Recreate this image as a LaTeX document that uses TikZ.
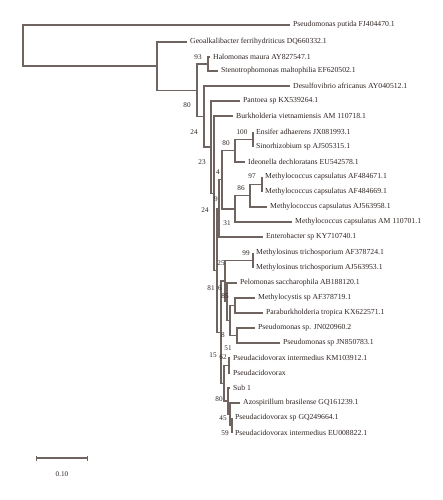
\documentclass[tikz,border=0pt]{standalone}
\usepackage{fontspec}
\setmainfont{Liberation Serif}
\usetikzlibrary{arrows.meta}
\definecolor{branchgray}{RGB}{112,100,96}
\definecolor{labelbrown}{RGB}{45,35,33}

\begin{document}
\begin{tikzpicture}[x=1pt, y=-1pt,
    branch/.style={draw=branchgray, line width=1.25pt},
    taxon/.style={anchor=west, inner xsep=3pt, inner ysep=0pt, text=labelbrown, font=\fontsize{7.7}{8}\selectfont},
    boot/.style={inner sep=0pt, text=labelbrown, font=\fontsize{7.2}{8}\selectfont}]
    %%%%% START %%%%%
    \useasboundingbox (0,0) rectangle (442,500);

    % taxa
    \node[taxon] (putida) at (290,25) {Pseudomonas putida FJ404470.1};
    \node[taxon] (geoalk) at (187,42) {Geoalkalibacter ferrihydriticus DQ660332.1};
    \node[taxon] (halo) at (210,57) {Halomonas maura AY827547.1};
    \node[taxon] (steno) at (218,71) {Stenotrophomonas maltophilia EF620502.1};
    \node[taxon] (desulfo) at (290,86) {Desulfovibrio africanus AY040512.1};
    \node[taxon] (pantoea) at (240,101) {Pantoea sp KX539264.1};
    \node[taxon] (burkh) at (233,116) {Burkholderia vietnamiensis AM 110718.1};
    \node[taxon] (ensifer) at (253,132) {Ensifer adhaerens JX081993.1};
    \node[taxon] (sinorh) at (253,147) {Sinorhizobium sp AJ505315.1};
    \node[taxon] (ideo) at (245,162) {Ideonella dechloratans EU542578.1};
    \node[taxon] (mcA) at (262,177) {Methylococcus capsulatus AF484671.1};
    \node[taxon] (mcB) at (262,192) {Methylococcus capsulatus AF484669.1};
    \node[taxon] (mcC) at (267,207) {Methylococcus capsulatus AJ563958.1};
    \node[taxon] (mcD) at (292,222) {Methylococcus capsulatus AM 110701.1};
    \node[taxon] (entero) at (263,237) {Enterobacter sp KY710740.1};
    \node[taxon] (msA) at (253,253) {Methylosinus trichosporium AF378724.1};
    \node[taxon] (msB) at (253,268) {Methylosinus trichosporium AJ563953.1};
    \node[taxon] (pelo) at (237,283) {Pelomonas saccharophila AB188120.1};
    \node[taxon] (mcyst) at (255,298) {Methylocystis sp AF378719.1};
    \node[taxon] (parab) at (263,313) {Paraburkholderia tropica KX622571.1};
    \node[taxon] (psA) at (255,328) {Pseudomonas sp. JN020960.2};
    \node[taxon] (psB) at (280,343) {Pseudomonas sp JN850783.1};
    \node[taxon] (paA) at (230,358) {Pseudacidovorax intermedius KM103912.1};
    \node[taxon] (paB) at (230,373) {Pseudacidovorax};
    \node[taxon] (sub) at (230,388) {Sub 1};
    \node[taxon] (azo) at (240,403) {Azospirillum brasilense GQ161239.1};
    \node[taxon] (paC) at (232,418) {Pseudacidovorax sp GQ249664.1};
    \node[taxon] (paD) at (232,433) {Pseudacidovorax intermedius EU008822.1};

    % inner nodes
    \coordinate (root) at (23,45.6);
    \coordinate (n2) at (157,66.1);
    \coordinate (n80) at (197,90.25);
    \coordinate (hs93) at (208,64);
    \coordinate (n24) at (204,116.5);
    \coordinate (n23) at (211,147.1);
    \coordinate (n24b) at (214,193.2);
    \coordinate (n81) at (217,270.3);
    \coordinate (n9) at (219,208.4);
    \coordinate (n4) at (222,179.8);
    \coordinate (c80) at (235,150.75);
    \coordinate (e100) at (253,139.5);
    \coordinate (n31) at (235,208.9);
    \coordinate (n86) at (250,195.75);
    \coordinate (mc97) at (262,184.5);
    \coordinate (n15) at (221,332.2);
    \coordinate (q25) at (225,281.1);
    \coordinate (ms99) at (253,260.5);
    \coordinate (pp) at (227,301.75);
    \coordinate (p12) at (230,320.5);
    \coordinate (p1) at (235,305.5);
    \coordinate (p2) at (237,335.5);
    \coordinate (ke) at (224,383.3);
    \coordinate (ka) at (229,365.5);
    \coordinate (kd) at (228,401.1);
    \coordinate (kc) at (230,414.25);
    \coordinate (kb) at (232,425.5);

    % branches
    \draw[branch] (putida.west) -| (root) |- (n2);
    \draw[branch] (geoalk.west) -| (n2) |- (n80);
    \draw[branch] (hs93) -| (n80) |- (n24);
    \draw[branch] (halo.west) -| (hs93) |- (steno.west);
    \draw[branch] (desulfo.west) -| (n24) |- (n23);
    \draw[branch] (pantoea.west) -| (n23) |- (n24b);
    \draw[branch] (burkh.west) -| (n24b) |- (n81);
    \draw[branch] (n9) -| (n81) |- (n15);
    \draw[branch] (n4) -| (n9) |- (entero.west);
    \draw[branch] (c80) -| (n4) |- (n31);
    \draw[branch] (e100) -| (c80) |- (ideo.west);
    \draw[branch] (ensifer.west) -| (e100) |- (sinorh.west);
    \draw[branch] (n86) -| (n31) |- (mcD.west);
    \draw[branch] (mc97) -| (n86) |- (mcC.west);
    \draw[branch] (mcA.west) -| (mc97) |- (mcB.west);
    \draw[branch] (q25) -| (n15) |- (ke);
    \draw[branch] (ms99) -| (q25) |- (pp);
    \draw[branch] (msA.west) -| (ms99) |- (msB.west);
    \draw[branch] (pelo.west) -| (pp) |- (p12);
    \draw[branch] (p1) -| (p12) |- (p2);
    \draw[branch] (mcyst.west) -| (p1) |- (parab.west);
    \draw[branch] (psA.west) -| (p2) |- (psB.west);
    \draw[branch] (ka) -| (ke) |- (kd);
    \draw[branch] (paA.west) -| (ka) |- (paB.west);
    \draw[branch] (sub.west) -| (kd) |- (kc);
    \draw[branch] (azo.west) -| (kc) |- (kb);
    \draw[branch] (paC.west) -| (kb) |- (paD.west);

    % bootstrap values
    \node[boot] (b93) at (198,57) {93};
    \node[boot] (b80a) at (187,105) {80};
    \node[boot] (b24a) at (194,132) {24};
    \node[boot] (b23) at (202,162) {23};
    \node[boot] (b24b) at (205,210) {24};
    \node[boot] (b81) at (211,288) {81};
    \node[boot] (b15) at (213,355) {15};
    \node[boot] (b100) at (242,132) {100};
    \node[boot] (b80b) at (226,143) {80};
    \node[boot] (b4) at (218,172) {4};
    \node[boot] (b9) at (216,199) {9};
    \node[boot] (b97) at (252,176) {97};
    \node[boot] (b86) at (241,188) {86};
    \node[boot] (b31) at (227,223) {31};
    \node[boot] (b99) at (246,253) {99};
    \node[boot] (b25) at (221,263) {25};
    \node[boot] (b6) at (220,288) {6};
    \node[boot] (b85) at (225,296) {85};
    \node[boot] (b8) at (223,335) {8};
    \node[boot] (b51) at (228,348) {51};
    \node[boot] (b62) at (223,357) {62};
    \node[boot] (b80c) at (219,399) {80};
    \node[boot] (b45) at (223,418) {45};
    \node[boot] (b59) at (225,433) {59};

    % scale bar
    \coordinate (sbL) at (36,458);
    \coordinate (sbR) at (88,458);
    \draw[branch, {Bar[width=5pt]}-{Bar[width=5pt]}] (sbL) -- (sbR);
    \node[boot] (sbtext) at (62,474) {0.10};
    %%%%% END %%%%%
\end{tikzpicture}
\end{document}
